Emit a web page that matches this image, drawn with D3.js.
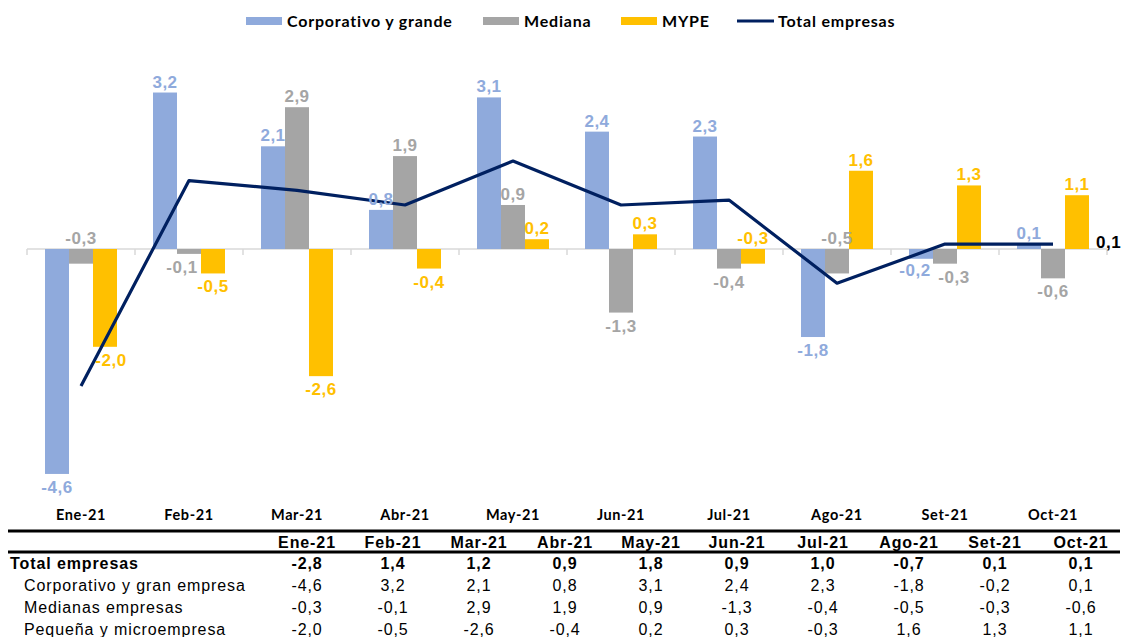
<!DOCTYPE html>
<html>
<head>
<meta charset="utf-8">
<script src="https://cdn.jsdelivr.net/npm/d3@7"></script>
<style>
    body { margin: 0; background: #fff; }
    svg { display: block; }
    .lbl { font-family: "Liberation Sans", Arial, sans-serif; font-weight: bold; font-size: 17px; letter-spacing: 0.5px; }
    .cal { font-family: Lato, "Open Sans", sans-serif; font-weight: bold; }
    .tbl { font-family: "Liberation Sans", Arial, sans-serif; font-size: 16px; letter-spacing: 0.9px; }
</style>
</head>
<body>
<svg id="chart" width="1126" height="637"></svg>
<script>
"use strict";

// data
const months = ["Ene-21", "Feb-21", "Mar-21", "Abr-21", "May-21", "Jun-21", "Jul-21", "Ago-21", "Set-21", "Oct-21"];
const corporativo = [-4.6, 3.2, 2.1, 0.8, 3.1, 2.4, 2.3, -1.8, -0.2, 0.1];
const mediana = [-0.3, -0.1, 2.9, 1.9, 0.9, -1.3, -0.4, -0.5, -0.3, -0.6];
const mype = [-2.0, -0.5, -2.6, -0.4, 0.2, 0.3, -0.3, 1.6, 1.3, 1.1];
const total = [-2.8, 1.4, 1.2, 0.9, 1.8, 0.9, 1.0, -0.7, 0.1, 0.1];

// where each bar label sits (a = above the bar / zero line, b = below)
const sideCorporativo = ["b", "a", "a", "a", "a", "a", "a", "b", "b", "a"];
const sideMediana = ["a", "b", "a", "a", "a", "b", "b", "a", "b", "b"];
const sideMype = ["b", "b", "b", "b", "a", "a", "a", "a", "a", "a"];

const tableRows = ["Total empresas", "Corporativo y gran empresa", "Medianas empresas", "Pequeña y microempresa"];

const series = [
    {key: "corp", name: "Corporativo y grande", values: corporativo, side: sideCorporativo, color: "#8faadc"},
    {key: "med", name: "Mediana", values: mediana, side: sideMediana, color: "#a5a5a5"},
    {key: "mype", name: "MYPE", values: mype, side: sideMype, color: "#ffc000"}
];
const lineColor = "#002060";

const fmt = v => d3.format(".1f")(v).replace(".", ",").replace("−", "-");

// setting
const setting = {
    plot: {left: 27, right: 1107, zero: 249, pxPerUnit: 48.9},
    barWidth: 24,
    // hand-moved labels (series|month -> [dx, dy])
    nudge: {"corp|Set-21": [-6, -2], "med|Set-21": [9, 0], "med|Feb-21": [-7, 0], "mype|Ene-21": [6, 0]},
    table: {top: 531, header: 548, rowH: 22, firstRow: 569, colStart: 264, colW: 86, left: 8, right: 1120}
};

const svg = d3.select("#chart");

// scales
const scaleX = d3.scaleBand()
    .domain(months)
    .range([setting.plot.left, setting.plot.right])
    .padding(0);

const scaleSub = d3.scaleBand()
    .domain(series.map(s => s.key))
    .range([(scaleX.bandwidth() - 3 * setting.barWidth) / 2, (scaleX.bandwidth() + 3 * setting.barWidth) / 2])
    .padding(0);

const scaleY = d3.scaleLinear()
    .domain([-5, 4])
    .range([setting.plot.zero + 5 * setting.plot.pxPerUnit, setting.plot.zero - 4 * setting.plot.pxPerUnit]);

// zero axis with tick marks at band edges
const axis = svg.append("g")
    .attr("class", "x_axis")
    .attr("transform", `translate(0, ${scaleY(0)})`);
axis.append("line")
    .attr("x1", setting.plot.left).attr("x2", setting.plot.right)
    .attr("stroke", "#d9d9d9").attr("stroke-width", 1.5);
axis.selectAll("line.tick")
    .data(months.concat(["end"]))
    .join("line")
    .attr("class", "tick")
    .attr("x1", (d, i) => setting.plot.left + i * scaleX.bandwidth())
    .attr("x2", (d, i) => setting.plot.left + i * scaleX.bandwidth())
    .attr("y1", 0).attr("y2", 6)
    .attr("stroke", "#d9d9d9").attr("stroke-width", 1.5);

// bars
series.forEach(s => {
    const g = svg.append("g").attr("class", "bars_" + s.key);
    g.selectAll("rect")
        .data(s.values)
        .join("rect")
        .attr("x", (d, i) => scaleX(months[i]) + scaleSub(s.key))
        .attr("width", scaleSub.bandwidth())
        .attr("y", d => scaleY(Math.max(0, d)))
        .attr("height", d => Math.abs(scaleY(d) - scaleY(0)))
        .attr("fill", s.color);
});

// total line
const line = d3.line()
    .x((d, i) => scaleX(months[i]) + scaleX.bandwidth() / 2)
    .y(d => scaleY(d));

svg.append("path")
    .datum(total)
    .attr("d", line)
    .attr("fill", "none")
    .attr("stroke", lineColor)
    .attr("stroke-width", 3.2)
    .attr("stroke-linejoin", "round");

// bar labels
const nudge = (s, i) => setting.nudge[s.key + "|" + months[i]] || [0, 0];
series.forEach(s => {
    svg.append("g").selectAll("text")
        .data(s.values)
        .join("text")
        .attr("class", "lbl")
        .attr("fill", s.color)
        .attr("text-anchor", "middle")
        .attr("x", (d, i) => scaleX(months[i]) + scaleSub(s.key) + scaleSub.bandwidth() / 2 + nudge(s, i)[0])
        .attr("y", (d, i) => (s.side[i] == "a" ? scaleY(Math.max(0, d)) - 5 : scaleY(Math.min(0, d)) + 19) + nudge(s, i)[1])
        .text(d => fmt(d));
});

// end label of the total line
svg.append("text")
    .attr("class", "lbl")
    .attr("font-size", 18)
    .attr("letter-spacing", 1)
    .attr("fill", "#000")
    .attr("x", scaleX(months[months.length - 1]) + scaleX.bandwidth() / 2 + 43)
    .attr("y", scaleY(total[total.length - 1]) + 4)
    .text(fmt(total[total.length - 1]));

// category labels
svg.append("g").selectAll("text")
    .data(months)
    .join("text")
    .attr("class", "cal")
    .attr("font-size", 14.5)
    .attr("letter-spacing", 0.6)
    .attr("text-anchor", "middle")
    .attr("x", d => scaleX(d) + scaleX.bandwidth() / 2)
    .attr("y", 520)
    .text(d => d);

// legend
const legend = svg.append("g").attr("class", "legend");
const legendItems = [
    {name: series[0].name, color: series[0].color, x: 246, type: "rect"},
    {name: series[1].name, color: series[1].color, x: 483, type: "rect"},
    {name: series[2].name, color: series[2].color, x: 621, type: "rect"},
    {name: "Total empresas", color: lineColor, x: 737, type: "line"}
];
legendItems.forEach(it => {
    if (it.type == "rect") {
        legend.append("rect").attr("x", it.x).attr("y", 17).attr("width", 36).attr("height", 8).attr("fill", it.color);
    } else {
        legend.append("line").attr("x1", it.x).attr("x2", it.x + 37).attr("y1", 21).attr("y2", 21)
            .attr("stroke", it.color).attr("stroke-width", 3);
    }
    legend.append("text")
        .attr("class", "cal")
        .attr("font-size", 16)
        .attr("letter-spacing", 0.8)
        .attr("x", it.x + 41)
        .attr("y", 26.5)
        .text(it.name);
});

// data table
const t = setting.table;
const table = svg.append("g").attr("class", "table");
[t.top, t.top + 21].forEach(y => {
    table.append("line")
        .attr("x1", t.left).attr("x2", t.right)
        .attr("y1", y).attr("y2", y)
        .attr("stroke", "#000").attr("stroke-width", 3);
});
table.selectAll("text.head")
    .data(months)
    .join("text")
    .attr("class", "tbl head")
    .attr("font-weight", "bold")
    .attr("text-anchor", "middle")
    .attr("x", (d, i) => t.colStart + t.colW * (i + 0.5))
    .attr("y", t.header)
    .text(d => d);

const tableValues = [total, corporativo, mediana, mype];
tableRows.forEach((r, j) => {
    const y = t.firstRow + j * t.rowH;
    table.append("text")
        .attr("class", "tbl")
        .attr("font-weight", j == 0 ? "bold" : "normal")
        .attr("x", j == 0 ? 10 : 24)
        .attr("y", y)
        .text(r);
    table.append("g").selectAll("text")
        .data(tableValues[j])
        .join("text")
        .attr("class", "tbl")
        .attr("font-weight", j == 0 ? "bold" : "normal")
        .attr("text-anchor", "middle")
        .attr("x", (d, i) => t.colStart + t.colW * (i + 0.5))
        .attr("y", y)
        .text(d => fmt(d));
});
</script>
</body>
</html>
